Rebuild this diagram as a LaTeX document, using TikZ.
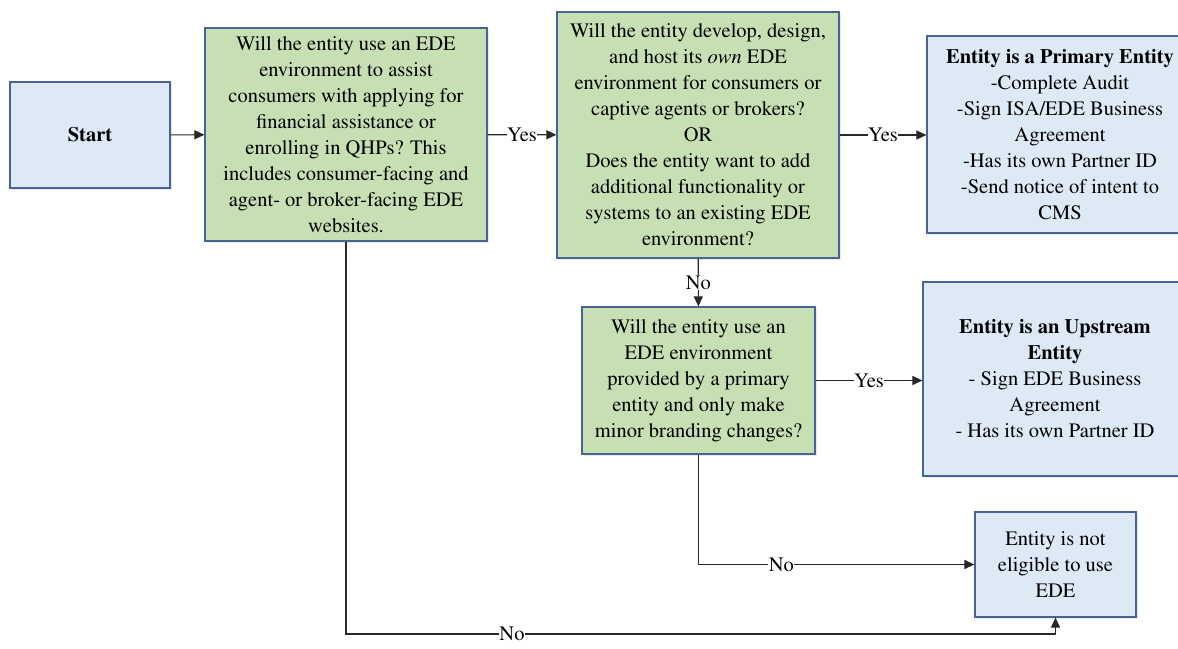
\documentclass[tikz,border=0pt]{standalone}
\usepackage[T1]{fontenc}
\usepackage{mathptmx}
\usepackage{xcolor}
\usepackage{tikz}
\usetikzlibrary{arrows.meta, positioning, calc, shadows}
\definecolor{boxline}{RGB}{72, 100, 148}
\definecolor{bluefill}{RGB}{222, 233, 246}
\definecolor{greenfill}{RGB}{198, 224, 180}
\definecolor{wire}{RGB}{40, 40, 40}

\begin{document}
\begin{tikzpicture}[x=1pt, y=-1pt, >=Triangle,
    txt/.style={font=\fontsize{20.5}{26}\selectfont, align=center, text=black},
    box/.style={txt, draw=boxline, line width=1.2pt, inner sep=2pt,
        drop shadow={shadow xshift=2pt, shadow yshift=-2pt, opacity=0.18}},
    question/.style={box, fill=greenfill},
    result/.style={box, fill=bluefill},
    edge/.style={draw=wire, line width=1.1pt, arrows={-Triangle[length=10pt, width=9pt]}},
    lbl/.style={txt, fill=white, inner sep=0.5pt}]
    \useasboundingbox (0,0) rectangle (1178,648);
    \clip (0,0) rectangle (1178,648);

    % Boxes
    \node[result, minimum width=160pt, minimum height=106pt] (start) at (90,135) {\textbf{Start}};
    \node[question, minimum width=282pt, minimum height=213pt] (q1) at (346,134.5)
        {Will the entity use an EDE\\environment to assist\\consumers with applying for\\financial assistance or\\enrolling in QHPs? This\\includes consumer-facing and\\agent- or broker-facing EDE\\websites.};
    \node[question, minimum width=282pt, minimum height=246pt] (q2) at (698,135)
        {Will the entity develop, design,\\and host its \textit{own} EDE\\environment for consumers or\\captive agents or brokers?\\OR\\Does the entity want to add\\additional functionality or\\systems to an existing EDE\\environment?};
    \node[result, minimum width=266pt, minimum height=197pt] (primary) at (1060,134.5)
        {\textbf{Entity is a Primary Entity}\\-Complete Audit\\-Sign ISA/EDE Business\\Agreement\\-Has its own Partner ID\\-Send notice of intent to\\CMS};
    \node[question, minimum width=233pt, minimum height=147pt] (q3) at (698.5,380.5)
        {Will the entity use an\\EDE environment\\provided by a primary\\entity and only make\\minor branding changes?};
    \node[result, minimum width=264pt, minimum height=194pt] (upstream) at (1055,379)
        {\textbf{Entity is an Upstream}\\\textbf{Entity}\\- Sign EDE Business\\Agreement\\- Has its own Partner ID};
    \node[result, minimum width=161pt, minimum height=105pt] (noelig) at (1055.5,564.5)
        {Entity is not\\eligible to use\\EDE};

    % Connectors
    \draw[edge] (start) -- (q1);
    \draw[edge] (q1) -- node[lbl] {Yes} (q2);
    \draw[edge] (q2) -- node[lbl] {Yes} (q2 -| primary.west);
    \draw[edge] (q2) -- node[lbl] {No} (q3);
    \draw[edge] (q3) -- node[lbl] {Yes} (q3 -| upstream.west);
    \draw[edge] (q3) |- node[lbl, pos=0.65] {No} (noelig);
    \draw[edge] (q1.south) -- (q1.south |- 0,634)
        -- node[lbl, pos=0.234] {No} (noelig.south |- 0,634) -- (noelig.south);
\end{tikzpicture}
\end{document}
